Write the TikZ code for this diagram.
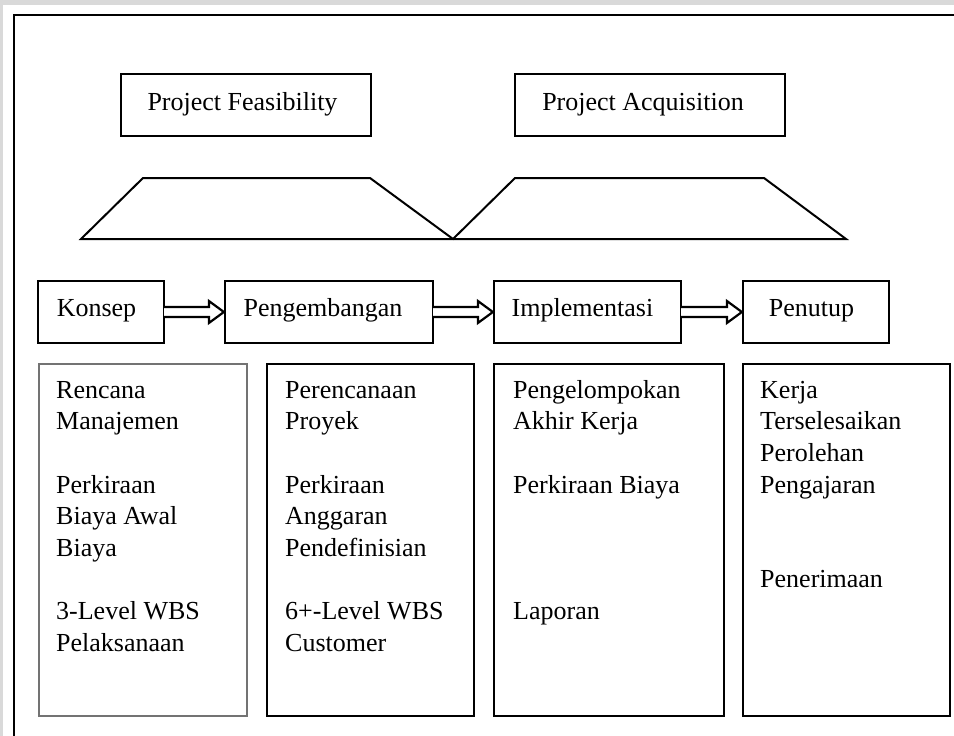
\documentclass[tikz,border=0pt]{standalone}
\usepackage{fontspec}
\setmainfont{Liberation Serif}
\usetikzlibrary{calc}
\newcommand\hollowarrow[2]{%
  \draw[harrow] let \p1=(#1.east), \p2=(#2.west) in
    (\x1-1pt,\y1+5pt) -- (\x2-15pt,\y1+5pt) -- (\x2-15pt,\y1+11pt) -- (\x2,\y1)
    -- (\x2-15pt,\y1-11pt) -- (\x2-15pt,\y1-5pt) -- (\x1-1pt,\y1-5pt);}
\begin{document}
\begin{tikzpicture}[x=1pt,y=-1pt,
  box/.style={draw=black, line width=2.2pt, inner sep=0pt},
  content/.style={draw=black, line width=2.5pt, inner sep=0pt, minimum height=352pt},
  lbl/.style={font=\fontsize{26}{31.6}\selectfont, inner sep=0pt, anchor=base},
  txt/.style={font=\fontsize{26}{31.6}\selectfont, inner sep=0pt, anchor=north west, align=left},
  harrow/.style={draw=black, fill=white, line width=2.2pt, line join=miter},
  frame/.style={draw=black, line width=2.5pt}
]
\useasboundingbox (0,0) rectangle (954,736);
\fill[white] (0,0) rectangle (954,736);
\fill[black!15] (0,0) rectangle (954,5);
\fill[black!15] (0,0) rectangle (3,736);
\draw[frame] (14,740) -- (14,15) -- (960,15);

% top boxes
\node[box, minimum width=250pt, minimum height=62pt] (feas) at (246,105) {};
\node[lbl] (feast) at ([xshift=-3.5pt,yshift=-5pt]feas.center) {Project Feasibility};
\node[box, minimum width=270pt, minimum height=62pt] (acq) at (650,105) {};
\node[lbl] (acqt) at ([xshift=-7pt,yshift=-5pt]acq.center) {Project Acquisition};

% trapezoids
\draw[line width=2pt, line join=miter] (81,239) -- (143,178) -- (370,178) -- (453,239)
  -- (515,178) -- (764,178) -- (846,239) -- cycle;

% phases
\node[box, minimum width=126pt, minimum height=62pt] (konsep) at (101,312) {};
\node[lbl] at ([xshift=-4.5pt,yshift=-4pt]konsep.center) {Konsep};
\node[box, minimum width=208pt, minimum height=62pt] (peng) at (329,312) {};
\node[lbl] at ([xshift=-6pt,yshift=-4pt]peng.center) {Pengembangan};
\node[box, minimum width=187pt, minimum height=62pt] (impl) at (587.5,312) {};
\node[lbl] at ([xshift=-5pt,yshift=-4pt]impl.center) {Implementasi};
\node[box, minimum width=146pt, minimum height=62pt] (tutup) at (816,312) {};
\node[lbl] at ([xshift=-4.5pt,yshift=-4pt]tutup.center) {Penutup};

\hollowarrow{konsep}{peng}
\hollowarrow{peng}{impl}
\hollowarrow{impl}{tutup}

% content boxes
\node[content, draw=black!55, line width=1.2pt, minimum width=208pt] (c1) at (143,540) {};
\node[content, minimum width=207pt] (c2) at (370.5,540) {};
\node[content, minimum width=230pt] (c3) at (609,540) {};
\node[content, minimum width=207pt] (c4) at (846.5,540) {};

\node[txt] (t1) at (56,376) {\strut Rencana\\Manajemen\\[31.6pt]Perkiraan\\Biaya Awal\\Biaya\\[31.6pt]3-Level WBS\\Pelaksanaan};
\node[txt] (t2) at (285,376) {\strut Perencanaan\\Proyek\\[31.6pt]Perkiraan\\Anggaran\\Pendefinisian\\[31.6pt]6+-Level WBS\\Customer};
\node[txt] (t3) at (513,376) {\strut Pengelompokan\\Akhir Kerja\\[31.6pt]Perkiraan Biaya\\[94.8pt]Laporan};
\node[txt] (t4) at (760,376) {\strut Kerja\\Terselesaikan\\Perolehan\\Pengajaran\\[63.2pt]Penerimaan};
\end{tikzpicture}
\end{document}
